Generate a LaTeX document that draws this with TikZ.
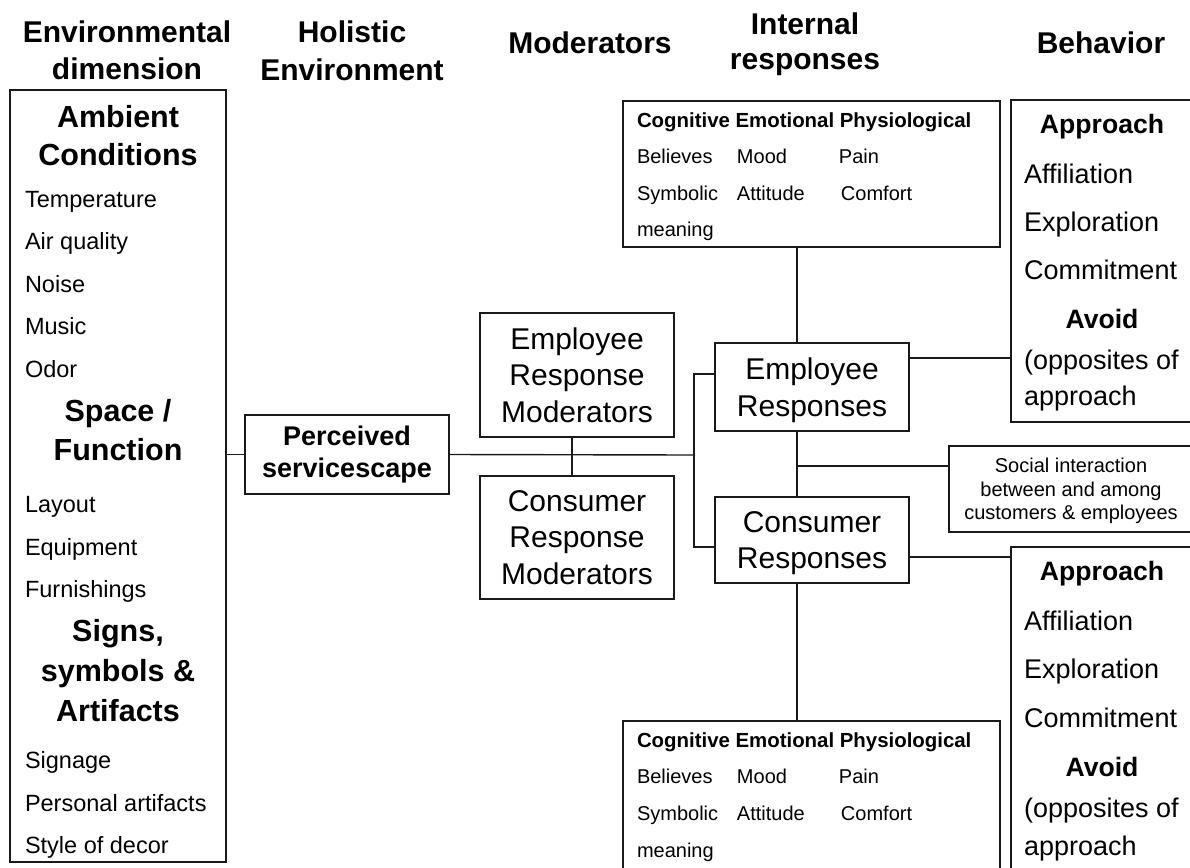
\documentclass[tikz,border=0pt]{standalone}
\usepackage{fontspec}
\setmainfont{Liberation Sans}
\newcommand{\fsz}[2]{\fontsize{#1}{#2}\selectfont}
\definecolor{ink}{HTML}{1A1A1A}
\begin{document}
\begin{tikzpicture}[x=1pt, y=-1pt,
  ln/.style={draw=ink, line width=1.4pt},
  box/.style={draw=ink, line width=1.4pt, inner sep=0pt, outer sep=0pt,
              anchor=north west, align=center},
  txt/.style={inner sep=0pt, outer sep=0pt, anchor=base west, text=black},
  ctr/.style={inner sep=0pt, outer sep=0pt, anchor=base, text=black},
  colhead/.style={ctr, font=\bfseries\fsz{30}{36}},
  sechead/.style={ctr, font=\bfseries\fsz{30.5}{38}},
  listitem/.style={txt, font=\fsz{23.5}{28}},
  inhead/.style={txt, font=\bfseries\fsz{20.4}{24}},
  initem/.style={txt, font=\fsz{20}{24}},
  behhead/.style={ctr, font=\bfseries\fsz{26.6}{32}},
  behitem/.style={txt, font=\fsz{27}{32}},
  bigtext/.style={font=\fsz{30}{36.5}},
]
\useasboundingbox (0,0) rectangle (1190,867);
\clip (0,0) rectangle (1190,867);

% ---- column headings
\node[colhead] (hEnvA) at (127,43) {Environmental};
\node[colhead] (hEnvB) at (127,79) {dimension};
\node[colhead] (hHolA) at (352,43) {Holistic};
\node[colhead] (hHolB) at (352,80) {Environment};
\node[colhead] (hMod)  at (590,54) {Moderators};
\node[colhead] (hIntA) at (805,35) {Internal};
\node[colhead] (hIntB) at (805,69) {responses};
\node[colhead] (hBeh)  at (1101,54) {Behavior};

% ---- environmental dimensions
\node[box, minimum width=216, minimum height=772] (env) at (10,90) {};
\node[sechead] (amb1) at (118,127) {Ambient};
\node[sechead] (amb2) at (118,165) {Conditions};
\node[listitem] (e1) at (25,207) {Temperature};
\node[listitem] (e2) at (25,249) {Air quality};
\node[listitem] (e3) at (25,292) {Noise};
\node[listitem] (e4) at (25,334) {Music};
\node[listitem] (e5) at (25,377) {Odor};
\node[sechead] (spc1) at (118,421) {Space /};
\node[sechead] (spc2) at (118,460) {Function};
\node[listitem] (e6) at (25,512) {Layout};
\node[listitem] (e7) at (25,555) {Equipment};
\node[listitem] (e8) at (25,597) {Furnishings};
\node[sechead] (sig1) at (118,641) {Signs,};
\node[sechead] (sig2) at (118,681) {symbols \&};
\node[sechead] (sig3) at (118,721) {Artifacts};
\node[listitem] (e9) at (25,768) {Signage};
\node[listitem] (e10) at (25,811) {Personal artifacts};
\node[listitem] (e11) at (25,853) {Style of decor};

% ---- holistic environment
\node[box, minimum width=204, minimum height=79, font=\bfseries\fsz{27}{32}]
  (perc) at (245,415) {Perceived\\servicescape};

% ---- moderators
\node[box, minimum width=194, minimum height=124, bigtext]
  (empmod) at (480,313) {Employee\\Response\\Moderators};
\node[box, minimum width=194, minimum height=123, bigtext]
  (conmod) at (480,476) {Consumer\\Response\\Moderators};

% ---- responses
\node[box, minimum width=194, minimum height=88, bigtext, text depth=0pt]
  (empresp) at (715,343) {Employee\\Responses};
\node[box, minimum width=194, minimum height=86, bigtext, text depth=0pt]
  (conresp) at (715,497) {Consumer\\Responses};

\node[box, minimum width=244, minimum height=86, font=\fsz{20}{23.5}, text depth=0pt]
  (social) at (949,446) {Social interaction\\between and among\\customers \& employees};

% ---- internal response panels
\node[box, minimum width=377, minimum height=146] (intop) at (623,101) {};
\node[inhead] (it0) at (637,127) {Cognitive Emotional Physiological};
\node[initem] (it1) at (637,163) {\makebox[100pt][l]{Believes}\makebox[102pt][l]{Mood}Pain};
\node[initem] (it2) at (637,200) {\makebox[100pt][l]{Symbolic}\makebox[104pt][l]{Attitude}Comfort};
\node[initem] (it3) at (637,236) {meaning};

\node[box, minimum width=377, minimum height=170] (inbot) at (623,721) {};
\node[inhead] (ib0) at (637,747) {Cognitive Emotional Physiological};
\node[initem] (ib1) at (637,783) {\makebox[100pt][l]{Believes}\makebox[102pt][l]{Mood}Pain};
\node[initem] (ib2) at (637,820) {\makebox[100pt][l]{Symbolic}\makebox[104pt][l]{Attitude}Comfort};
\node[initem] (ib3) at (637,857) {meaning};

% ---- behaviour panels
\node[box, minimum width=186, minimum height=322] (behtop) at (1011,100) {};
\node[behhead] (bt0) at (1102,133) {Approach};
\node[behitem] (bt1) at (1024,183) {Affiliation};
\node[behitem] (bt2) at (1024,231) {Exploration};
\node[behitem] (bt3) at (1024,279) {Commitment};
\node[behhead] (bt4) at (1102,328) {Avoid};
\node[behitem] (bt5) at (1024,369) {(opposites of};
\node[behitem] (bt6) at (1024,405) {approach};

\node[box, minimum width=186, minimum height=340] (behbot) at (1011,547) {};
\node[behhead] (bb0) at (1102,580) {Approach};
\node[behitem] (bb1) at (1024,630) {Affiliation};
\node[behitem] (bb2) at (1024,678) {Exploration};
\node[behitem] (bb3) at (1024,727) {Commitment};
\node[behhead] (bb4) at (1102,776) {Avoid};
\node[behitem] (bb5) at (1024,817) {(opposites of};
\node[behitem] (bb6) at (1024,855) {approach};

% ---- junction points of the connectors
\coordinate (hub) at (694,455);
\coordinate (ja) at (694,374);
\coordinate (jb) at (694,547);
\coordinate (spine) at (797,0);
\coordinate (js) at (797,466);
\coordinate (je) at (0,358);
\coordinate (jc) at (0,557);

% ---- connectors
\draw[ln] (env.east |- perc.west) -- (perc.west);
\draw[ln] (perc.east) -- (hub);
\draw[ln] ([xshift=-5pt]empmod.south) -- ([xshift=-5pt]conmod.north);
\draw[ln] (empresp.west |- ja) -- (ja) -- (jb) -- (conresp.west |- jb);
\draw[ln] (intop.south -| spine) -- (empresp.north -| spine);
\draw[ln] (empresp.south -| spine) -- (conresp.north -| spine);
\draw[ln] (js) -- (social.west |- js);
\draw[ln] (conresp.south -| spine) -- (inbot.north -| spine);
\draw[ln] (empresp.east |- je) -- (behtop.west |- je);
\draw[ln] (conresp.east |- jc) -- (behbot.west |- jc);
\end{tikzpicture}
\end{document}
